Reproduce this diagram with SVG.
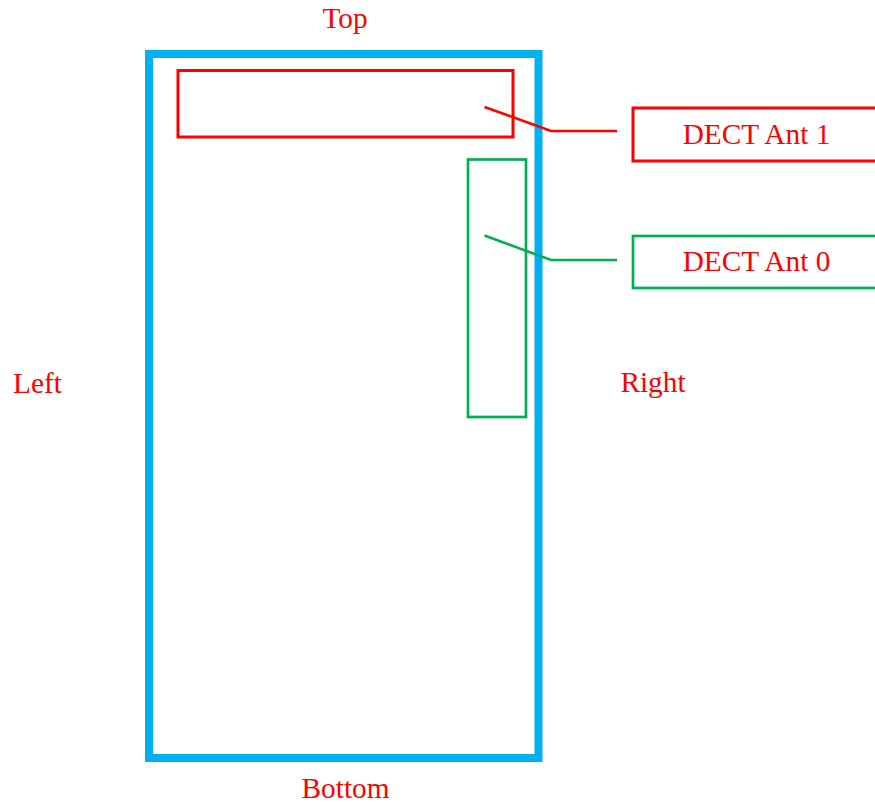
<svg xmlns="http://www.w3.org/2000/svg" width="875" height="803" viewBox="0 0 875 803">
<style>
text{font-family:"Liberation Serif","Times New Roman",serif;font-size:29.3px;fill:#f00;text-anchor:middle}
.r{fill:none;stroke:#f00;stroke-width:3}
.g{fill:none;stroke:#00b050;stroke-width:2.700}
.c{stroke-width:2.600}
.b{fill:none;stroke:#00b0f0;stroke-width:8}
</style>
<rect width="875" height="803" fill="#fff"/>
<g id="board"><rect class="b" x="149" y="54" width="389.500" height="704"/></g>
<g id="ant1-area"><rect class="r" x="178" y="70.500" width="335" height="66.500"/></g>
<g id="ant0-area"><rect class="g" x="468" y="159.500" width="58" height="257.500"/></g>
<g id="connectors">
<polyline class="r c" points="484.500,107 551,131 617,131"/>
<polyline class="g c" points="484.500,235.500 551,260 617,260"/>
</g>
<g id="ant1-label"><rect class="r" x="633" y="108" width="250" height="53"/><text x="756.500" y="144">DECT Ant 1</text></g>
<g id="ant0-label"><rect class="g" x="633" y="236" width="250" height="52"/><text x="756.500" y="271">DECT Ant 0</text></g>
<g id="top"><text x="345" y="28">Top</text></g>
<g id="bottom"><text x="345.500" y="798">Bottom</text></g>
<g id="left"><text x="37.500" y="393">Left</text></g>
<g id="right"><text x="653" y="392">Right</text></g>
</svg>
